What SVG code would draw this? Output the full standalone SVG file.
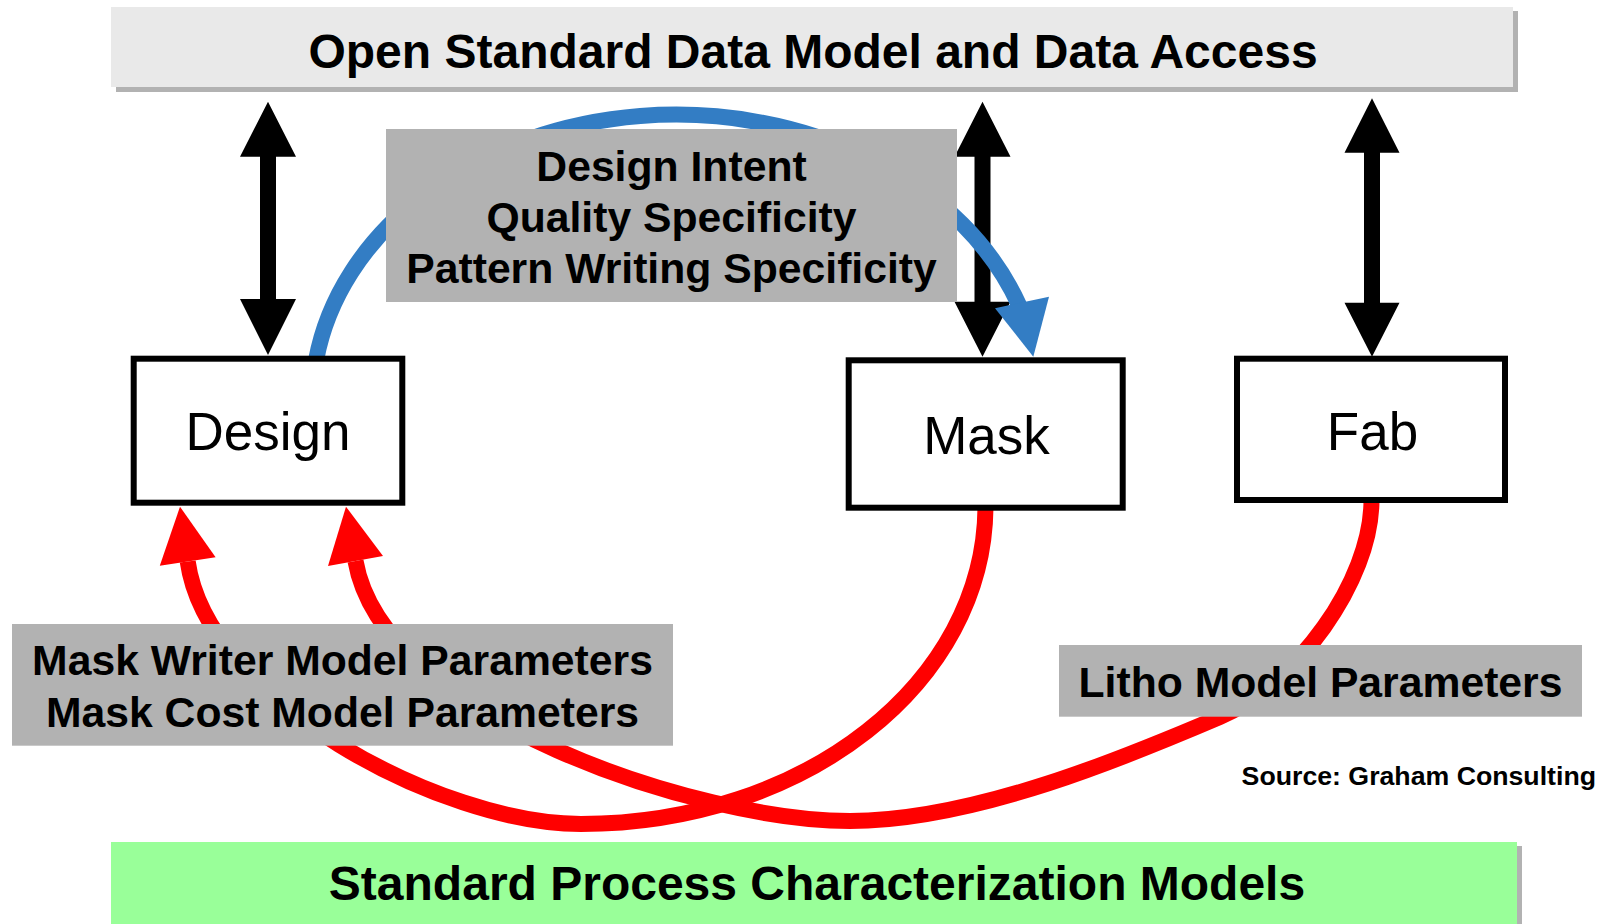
<svg xmlns="http://www.w3.org/2000/svg" width="1598" height="924" viewBox="0 0 1598 924">
  <style>
    .banner-text { font-family: "Liberation Sans", Arial, sans-serif; font-weight: bold; font-size: 48px; fill: #000; text-anchor: middle; }
    .label-text { font-family: "Liberation Sans", Arial, sans-serif; font-weight: bold; font-size: 42.7px; fill: #000; text-anchor: middle; }
    .node-text { font-family: "Liberation Sans", Arial, sans-serif; font-size: 53px; fill: #000; text-anchor: middle; }
    .source-text { font-family: "Liberation Sans", Arial, sans-serif; font-weight: bold; font-size: 26.7px; fill: #000; text-anchor: end; }
    .node-box { fill: #fff; stroke: #000; stroke-width: 6; }
    .label-box { fill: #b2b2b2; }
    .shadow { fill: #b2b2b2; }
    .feedback { fill: none; stroke: #ff0000; stroke-width: 16; }
    .feedback-head { fill: #ff0000; }
    .intent { fill: none; stroke: #337dc4; stroke-width: 16; }
    .intent-head { fill: #337dc4; }
    .access { fill: #000; }
  </style>

  <!-- Top banner -->
  <g id="data-access">
    <rect class="shadow" x="116" y="11" width="1402" height="81"/>
    <rect x="111" y="7" width="1402" height="80" fill="#e9e9e9"/>
    <text class="banner-text" x="813" y="68">Open Standard Data Model and Data Access</text>
  </g>

  <!-- Bottom banner -->
  <g id="process-models">
    <rect class="shadow" x="116" y="846" width="1406" height="90"/>
    <rect x="111" y="842" width="1406" height="90" fill="#99ff99"/>
    <text class="banner-text" x="817" y="900">Standard Process Characterization Models</text>
  </g>

  <!-- Connectors -->
  <g id="connectors">
    <!-- Mask -> Design feedback -->
    <path class="feedback" d="M985.5,505 C985.5,683 804,824 581,824 C441,824 207,700 187.7,561.5"/>
    <polygon class="feedback-head" points="180,506.7 159.8,565.7 215.6,557.3"/>
    <!-- Fab -> Design feedback -->
    <path class="feedback" d="M1371.5,500 C1371.5,582 1295,685 1220,717 C1130,755.4 975,821 850,821 C700,821 383,718.6 355.5,561"/>
    <polygon class="feedback-head" points="346,506.7 328,566 383,556"/>

    <!-- Data access double arrows -->
    <path class="access" d="M268,101.7 L296,156.7 L276,156.7 L276,299 L296,299 L268,355 L240,299 L260,299 L260,156.7 L240,156.7 Z"/>
    <path class="access" d="M982.5,101.7 L1010.5,156.7 L990.5,156.7 L990.5,301.7 L1010.5,301.7 L982.5,356.7 L954.5,301.7 L974.5,301.7 L974.5,156.7 L954.5,156.7 Z"/>
    <path class="access" d="M1372,98.3 L1399.5,152.7 L1380,152.7 L1380,302.7 L1399.5,302.7 L1372,356.7 L1344.5,302.7 L1364,302.7 L1364,152.7 L1344.5,152.7 Z"/>

    <!-- Design -> Mask intent arc -->
    <path class="intent" d="M316.1,360 A364,287 0 0 1 1019,305"/>
    <polygon class="intent-head" points="995,308.3 1049,296.7 1033.3,356.7"/>
  </g>

  <!-- Intent label -->
  <g id="intent-label">
    <rect class="label-box" x="386" y="129" width="571" height="173"/>
    <text class="label-text" x="671.5" y="180.5">Design Intent</text>
    <text class="label-text" x="671.5" y="231.5">Quality Specificity</text>
    <text class="label-text" x="671.5" y="283">Pattern Writing Specificity</text>
  </g>

  <!-- Nodes -->
  <g id="design">
    <rect class="node-box" x="133.7" y="358.7" width="268.6" height="144"/>
    <text class="node-text" x="268" y="450">Design</text>
  </g>
  <g id="mask">
    <rect class="node-box" x="848.7" y="360.3" width="274" height="147.4"/>
    <text class="node-text" x="986.5" y="454.3">Mask</text>
  </g>
  <g id="fab">
    <rect class="node-box" x="1237" y="358.7" width="268" height="141.3"/>
    <text class="node-text" x="1372.5" y="450">Fab</text>
  </g>

  <!-- Feedback labels -->
  <g id="mask-params">
    <rect class="label-box" x="12" y="624" width="661" height="121.7"/>
    <text class="label-text" x="342.5" y="675">Mask Writer Model Parameters</text>
    <text class="label-text" x="342.5" y="726.7">Mask Cost Model Parameters</text>
  </g>
  <g id="litho-params">
    <rect class="label-box" x="1059" y="645" width="523" height="71.7"/>
    <text class="label-text" x="1320.5" y="696.7">Litho Model Parameters</text>
  </g>

  <text class="source-text" x="1596" y="785">Source: Graham Consulting</text>
</svg>
